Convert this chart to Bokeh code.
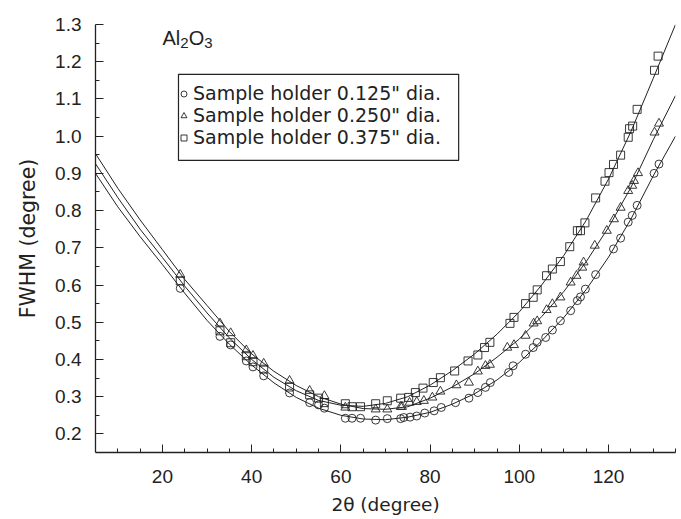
from bokeh.plotting import figure
from bokeh.models import FixedTicker, Legend, LegendItem, Label, Range1d, BoxAnnotation
from bokeh.embed import file_html
from bokeh.resources import INLINE

# ---------------- data ----------------
series_labels = ['Sample holder 0.125" dia.', 'Sample holder 0.250" dia.', 'Sample holder 0.375" dia.']

x_125 = [24.0, 32.9, 35.3, 38.8, 40.3, 42.7, 48.5, 53.0, 55.0, 56.3, 61.0, 62.5, 64.4, 67.8, 70.4,
         73.4, 74.1, 75.5, 77.0, 78.8, 80.9, 82.5, 85.7, 88.7, 90.7, 92.4, 93.5, 97.6, 98.6, 101.4,
         103.1, 104.0, 105.9, 107.4, 109.2, 111.5, 113.0, 113.7, 114.8, 117.1, 121.1, 122.7, 124.4,
         125.3, 126.4, 130.2, 131.3]
y_125 = [0.591, 0.462, 0.439, 0.396, 0.380, 0.356, 0.310, 0.284, 0.278, 0.269, 0.242, 0.242, 0.242,
         0.237, 0.241, 0.241, 0.244, 0.245, 0.248, 0.256, 0.262, 0.271, 0.284, 0.296, 0.311, 0.325,
         0.338, 0.365, 0.383, 0.414, 0.432, 0.446, 0.459, 0.479, 0.504, 0.531, 0.558, 0.568, 0.589,
         0.628, 0.697, 0.726, 0.769, 0.787, 0.814, 0.900, 0.925]

x_250 = [24.0, 32.9, 35.3, 38.8, 40.3, 42.7, 48.5, 53.0, 56.3, 61.0, 67.8, 70.4, 73.4, 73.7, 75.4,
         77.0, 78.6, 80.5, 82.3, 85.9, 88.7, 90.7, 92.4, 93.4, 97.3, 98.8, 101.4, 103.2, 104.0, 106.1,
         107.4, 109.2, 111.5, 112.8, 114.1, 114.4, 116.9, 119.6, 121.2, 122.7, 124.4, 125.3, 125.7,
         126.6, 130.3, 131.3]
y_250 = [0.628, 0.497, 0.471, 0.425, 0.410, 0.389, 0.343, 0.316, 0.302, 0.271, 0.266, 0.266, 0.273,
         0.273, 0.284, 0.286, 0.289, 0.298, 0.314, 0.331, 0.338, 0.368, 0.383, 0.386, 0.432, 0.439,
         0.464, 0.497, 0.503, 0.533, 0.549, 0.567, 0.607, 0.625, 0.647, 0.661, 0.706, 0.746, 0.777,
         0.808, 0.853, 0.867, 0.880, 0.901, 1.010, 1.034]

x_375 = [24.0, 32.9, 35.3, 38.8, 40.3, 42.7, 48.5, 53.0, 55.0, 56.3, 61.0, 62.5, 64.4, 67.8, 70.4,
         73.4, 75.2, 76.7, 78.4, 80.7, 82.3, 85.5, 88.5, 90.7, 92.2, 93.4, 97.9, 98.8, 101.4, 103.1,
         104.0, 106.1, 107.4, 109.2, 111.3, 113.0, 113.7, 114.7, 117.1, 119.2, 120.1, 121.1, 122.7,
         124.4, 124.7, 125.4, 126.4, 130.3, 131.1]
y_375 = [0.611, 0.477, 0.445, 0.410, 0.394, 0.374, 0.326, 0.305, 0.296, 0.284, 0.281, 0.273, 0.273,
         0.281, 0.289, 0.296, 0.298, 0.311, 0.323, 0.338, 0.351, 0.369, 0.396, 0.412, 0.432, 0.446,
         0.497, 0.513, 0.550, 0.567, 0.587, 0.625, 0.643, 0.663, 0.703, 0.746, 0.746, 0.767, 0.834,
         0.879, 0.902, 0.924, 0.949, 0.997, 1.020, 1.027, 1.072, 1.177, 1.215]

# fitted curves
fit_x = [5, 10, 15, 20, 25, 30, 35, 40, 45, 50, 55, 60, 65, 70, 75, 80, 85, 90, 95, 100, 105,
         110, 115, 120, 125, 130, 135]
fit_125 = [0.900, 0.810, 0.730, 0.655, 0.578, 0.505, 0.441, 0.385, 0.337, 0.298, 0.269, 0.250,
           0.240, 0.238, 0.245, 0.258, 0.280, 0.308, 0.345, 0.392, 0.450, 0.513, 0.588, 0.675,
           0.777, 0.893, 1.000]
fit_250 = [0.953, 0.860, 0.775, 0.695, 0.615, 0.545, 0.475, 0.415, 0.368, 0.330, 0.300, 0.280,
           0.268, 0.266, 0.273, 0.296, 0.326, 0.362, 0.406, 0.455, 0.515, 0.583, 0.663, 0.755,
           0.862, 0.990, 1.109]
fit_375 = [0.926, 0.835, 0.750, 0.674, 0.597, 0.525, 0.458, 0.400, 0.352, 0.316, 0.290, 0.277,
           0.274, 0.282, 0.300, 0.331, 0.370, 0.415, 0.468, 0.528, 0.600, 0.680, 0.774, 0.885,
           1.012, 1.155, 1.300]

x_major = [20, 40, 60, 80, 100, 120]
x_minor = [10, 15, 25, 30, 35, 45, 50, 55, 65, 70, 75, 85, 90, 95, 105, 110, 115, 125, 130, 135]
y_major = [0.2, 0.3, 0.4, 0.5, 0.6, 0.7, 0.8, 0.9, 1.0, 1.1, 1.2, 1.3]
y_minor = [0.25, 0.35, 0.45, 0.55, 0.65, 0.75, 0.85, 0.95, 1.05, 1.15, 1.25]

# ---------------- figure ----------------
FONT = "Liberation Sans"
WIDE = "DejaVu Sans"
INK = "#222222"

p = figure(width=681, height=519, output_backend="svg", toolbar_location=None,
           x_range=Range1d(5, 135), y_range=Range1d(0.15, 1.3),
           min_border_left=95, min_border_right=6, min_border_top=24, min_border_bottom=67)
p.outline_line_color = None
p.grid.visible = False
p.background_fill_color = "white"
p.border_fill_color = "white"

for ax in (p.xaxis[0], p.yaxis[0]):
    ax.axis_line_color = INK
    ax.axis_line_width = 1.3
    ax.major_tick_line_color = INK
    ax.minor_tick_line_color = INK
    ax.major_tick_in = 8
    ax.major_tick_out = 0
    ax.minor_tick_in = 4
    ax.minor_tick_out = 0
    ax.major_label_text_font = FONT
    ax.major_label_text_font_size = "19px"
    ax.major_label_text_color = INK
    ax.axis_label_text_font = WIDE
    ax.axis_label_text_font_style = "normal"
    ax.axis_label_text_color = INK

p.xaxis.axis_label_text_font_size = "18.5px"
p.yaxis.axis_label_text_font_size = "20.5px"
p.xaxis.ticker = FixedTicker(ticks=x_major, minor_ticks=x_minor)
p.yaxis.ticker = FixedTicker(ticks=y_major, minor_ticks=y_minor)
p.yaxis.major_label_overrides = {v: f"{v:.1f}" for v in y_major}
p.xaxis.axis_label = "2\u03b8 (degree)"
p.yaxis.axis_label = "FWHM (degree)"
p.xaxis.major_label_standoff = 17
p.xaxis.axis_label_standoff = 8
p.yaxis.major_label_standoff = 14
p.yaxis.axis_label_standoff = 12

# fitted lines
for fy in (fit_125, fit_250, fit_375):
    p.line(fit_x, fy, line_color=INK, line_width=1.0)

# data points
mk = dict(fill_color=None, line_color=INK, line_width=0.9)
p.scatter(x_125, y_125, marker="circle", size=8, **mk)
p.scatter(x_250, y_250, marker="triangle", size=9, **mk)
p.scatter(x_375, y_375, marker="square", size=8, **mk)

# legend frame (drawn separately so the padding can differ per side)
p.add_layout(BoxAnnotation(left=23.6, right=86.4, top=1.166, bottom=0.935,
                           fill_color="white", fill_alpha=1.0,
                           line_color=INK, line_alpha=1.0, line_width=1.2,
                           level="annotation"))

# legend-only glyphs (no visible points)
nan = float("nan")
lc = p.scatter([nan], [nan], marker="circle", size=6, **mk)
lt = p.scatter([nan], [nan], marker="triangle", size=7, **mk)
ls = p.scatter([nan], [nan], marker="square", size=6, **mk)
legend = Legend(items=[LegendItem(label=series_labels[0], renderers=[lc]),
                       LegendItem(label=series_labels[1], renderers=[lt]),
                       LegendItem(label=series_labels[2], renderers=[ls])],
                location=(81, 304), orientation="vertical",
                label_text_font=WIDE, label_text_font_size="19px", label_text_color=INK,
                label_height=17, label_standoff=2, glyph_width=15, glyph_height=15,
                spacing=-5, padding=5, margin=0,
                border_line_color=None, background_fill_alpha=0.0)
p.add_layout(legend, "center")

# Al2O3 label built from pieces (subscripts)
lab = dict(text_font=FONT, text_color=INK, x_units="data", y_units="data",
           text_baseline="alphabetic")
p.add_layout(Label(x=20.0, y=1.265, text="Al", text_font_size="20px", **lab))
p.add_layout(Label(x=24.0, y=1.251, text="2", text_font_size="15px", **lab))
p.add_layout(Label(x=25.9, y=1.265, text="O", text_font_size="20px", **lab))
p.add_layout(Label(x=29.4, y=1.251, text="3", text_font_size="15px", **lab))

open("out.html", "w").write(file_html(p, INLINE))
